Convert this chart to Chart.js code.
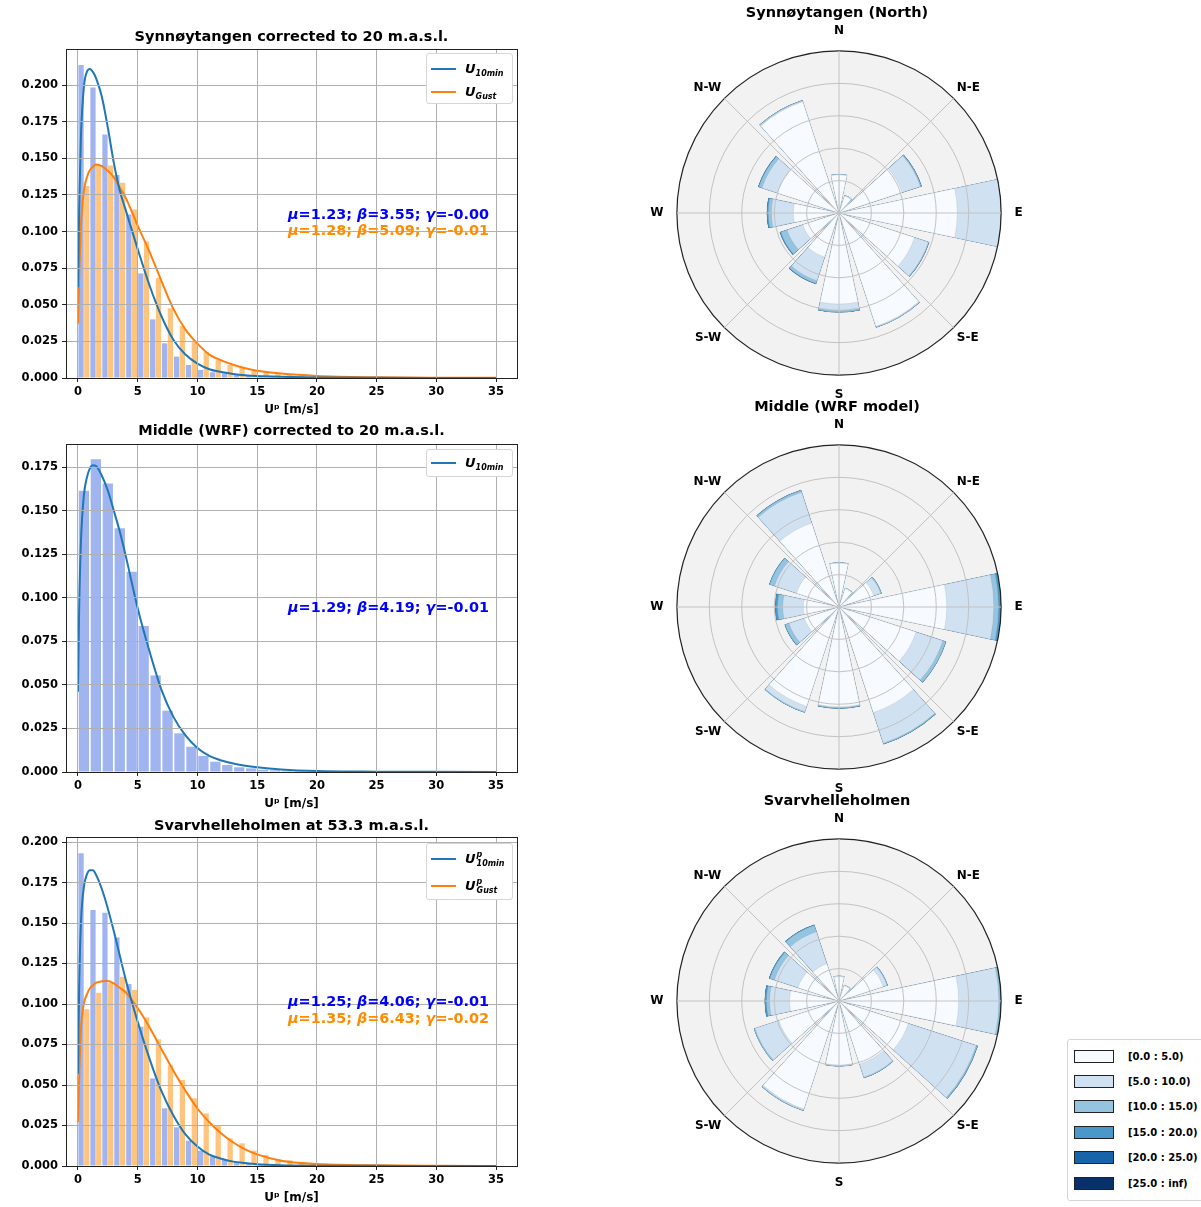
<!DOCTYPE html>
<html>
<head>
<meta charset="utf-8">
<title>Wind speed distributions and wind roses</title>
<script src="https://cdn.jsdelivr.net/npm/chart.js@4.4.1/dist/chart.umd.min.js"></script>
<style>
  html, body { margin: 0; padding: 0; background: #fff; }
  body { width: 1201px; height: 1207px; position: relative; overflow: hidden; font-family: "DejaVu Sans", sans-serif; }
  canvas { position: absolute; }
  .fit { position: absolute; left: 288px; font-weight: bold; font-size: 14.4px; line-height: 16px; white-space: nowrap; }
  .key { position: absolute; left: 426px; width: 85px; background: #fff; border: 1px solid #d6d6d6; border-radius: 3px; }
  .key .row { position: absolute; left: 0; height: 18px; display: flex; align-items: center; white-space: nowrap; }
  .key .ln { display: inline-block; width: 25px; height: 0; border-top: 2px solid; margin: 0 9px 0 4px; }
  .sym { font-style: italic; font-weight: bold; font-size: 13px; }
  .sym sub { font-size: 8px; vertical-align: -3px; }
  .ss { display: inline-flex; flex-direction: column; font-size: 8px; line-height: 9px; vertical-align: 6px; margin-left: 1px; }
  #binkey { position: absolute; left: 1067px; top: 1039px; width: 150px; height: 160px; background: #fff; border: 1px solid #d6d6d6; border-radius: 3px; }
  #binkey .row { position: absolute; left: 6px; height: 14px; display: flex; align-items: center; font-weight: bold; font-size: 10px; white-space: nowrap; }
  #binkey .sw { width: 38px; height: 11px; border: 1px solid #222; margin-right: 14px; }
</style>
</head>
<body>
<canvas id="h1" width="530" height="425" style="left:0;top:0"></canvas>
<canvas id="h2" width="530" height="424" style="left:0;top:395px"></canvas>
<canvas id="h3" width="530" height="423" style="left:0;top:790px"></canvas>
<canvas id="r1" width="378" height="402" style="left:648px;top:0"></canvas>
<canvas id="r2" width="378" height="402" style="left:648px;top:394px"></canvas>
<canvas id="r3" width="378" height="402" style="left:648px;top:788px"></canvas>

<div class="fit" style="top:206px;color:#0000ff"><i>μ</i>=1.23; <i>β</i>=3.55; <i>γ</i>=-0.00</div>
<div class="fit" style="top:222px;color:#ff8c00"><i>μ</i>=1.28; <i>β</i>=5.09; <i>γ</i>=-0.01</div>
<div class="fit" style="top:599px;color:#0000ff"><i>μ</i>=1.29; <i>β</i>=4.19; <i>γ</i>=-0.01</div>
<div class="fit" style="top:993px;color:#0000ff"><i>μ</i>=1.25; <i>β</i>=4.06; <i>γ</i>=-0.01</div>
<div class="fit" style="top:1010px;color:#ff8c00"><i>μ</i>=1.35; <i>β</i>=6.43; <i>γ</i>=-0.02</div>

<div class="key" style="top:53px;height:49px">
  <div class="row" style="top:6px"><span class="ln" style="border-color:#1f77b4"></span><span class="sym">U<sub>10min</sub></span></div>
  <div class="row" style="top:29px"><span class="ln" style="border-color:#ff7f0e"></span><span class="sym">U<sub>Gust</sub></span></div>
</div>
<div class="key" style="top:449px;height:26px">
  <div class="row" style="top:4px"><span class="ln" style="border-color:#1f77b4"></span><span class="sym">U<sub>10min</sub></span></div>
</div>
<div class="key" style="top:843px;height:55px">
  <div class="row" style="top:6px"><span class="ln" style="border-color:#1f77b4"></span><span class="sym">U<span class="ss"><span>p</span><span>10min</span></span></span></div>
  <div class="row" style="top:33px"><span class="ln" style="border-color:#ff7f0e"></span><span class="sym">U<span class="ss"><span>p</span><span>Gust</span></span></span></div>
</div>
<div id="binkey"></div>

<script>
// histogram bins are 1 m/s wide, starting at 0
const synnU10Hist = [0.2137, 0.1984, 0.1663, 0.1386, 0.1117, 0.0714, 0.0400, 0.0237, 0.0146, 0.0089, 0.0055, 0.0039, 0.0032, 0.0025, 0.0018, 0.0014, 0.0010, 0.0007, 0.0005, 0.0004, 0.0003, 0.0002, 0.0001, 0.0001, 0, 0, 0, 0, 0, 0];
const synnGustHist = [0.1311, 0.1454, 0.1450, 0.1333, 0.1151, 0.0931, 0.0683, 0.0476, 0.0355, 0.0248, 0.0180, 0.0127, 0.0089, 0.0070, 0.0048, 0.0045, 0.0032, 0.0020, 0.0015, 0.0011, 0.0008, 0.0006, 0.0004, 0.0003, 0.0002, 0.0002, 0.0001, 0.0001, 0, 0];
const midU10Hist = [0.1614, 0.1794, 0.1656, 0.1398, 0.1149, 0.0838, 0.0553, 0.0352, 0.0222, 0.0145, 0.0092, 0.0059, 0.0040, 0.0027, 0.0021, 0.0013, 0.0010, 0.0007, 0.0005, 0.0003, 0.0002, 0.0001, 0.0001, 0, 0, 0, 0, 0, 0, 0];
const svarU10Hist = [0.1930, 0.1580, 0.1564, 0.1410, 0.1123, 0.0860, 0.0541, 0.0356, 0.0239, 0.0156, 0.0095, 0.0060, 0.0037, 0.0023, 0.0016, 0.0010, 0.0007, 0.0005, 0.0003, 0.0002, 0.0001, 0.0001, 0, 0, 0, 0, 0, 0, 0, 0];
const svarGustHist = [0.0967, 0.1070, 0.1130, 0.1169, 0.1086, 0.0916, 0.0782, 0.0623, 0.0531, 0.0418, 0.0325, 0.0247, 0.0171, 0.0140, 0.0095, 0.0068, 0.0043, 0.0035, 0.0025, 0.0020, 0.0015, 0.0010, 0.0008, 0.0005, 0.0004, 0.0003, 0.0002, 0.0001, 0, 0];

// fitted curves at these wind speeds
const fitX = [0, 0.1, 0.25, 0.5, 0.75, 1, 1.25, 1.5, 2, 2.5, 3, 3.5, 4, 5, 6, 7, 8, 9, 10, 11, 12, 13, 14, 15, 17, 20, 25, 30, 35];
const synnU10Fit = [0.062, 0.115, 0.165, 0.199, 0.209, 0.211, 0.209, 0.205, 0.192, 0.171, 0.147, 0.128, 0.1146, 0.088, 0.063, 0.042, 0.026, 0.016, 0.0098, 0.006, 0.0041, 0.0027, 0.0018, 0.0013, 0.0008, 0.0004, 0.0001, 0.00005, 0];
const synnGustFit = [0.037, 0.068, 0.104, 0.128, 0.137, 0.142, 0.144, 0.1457, 0.1447, 0.1415, 0.137, 0.130, 0.123, 0.104, 0.086, 0.066, 0.047, 0.033, 0.0235, 0.016, 0.012, 0.009, 0.0066, 0.005, 0.003, 0.0014, 0.0005, 0.0002, 0.0001];
const midU10Fit = [0.046, 0.093, 0.132, 0.159, 0.169, 0.1742, 0.176, 0.1757, 0.170, 0.1615, 0.150, 0.138, 0.124, 0.094, 0.069, 0.047, 0.0315, 0.021, 0.0138, 0.0092, 0.0066, 0.0049, 0.0036, 0.0027, 0.0015, 0.0006, 0.0002, 0.0001, 0];
const svarU10Fit = [0.057, 0.110, 0.150, 0.1724, 0.180, 0.1825, 0.1825, 0.180, 0.171, 0.159, 0.145, 0.130, 0.115, 0.089, 0.066, 0.046, 0.031, 0.0195, 0.012, 0.007, 0.0045, 0.0027, 0.0018, 0.0011, 0.0005, 0.0002, 0.0001, 0, 0];
const svarGustFit = [0.027, 0.054, 0.084, 0.1004, 0.106, 0.1097, 0.1115, 0.113, 0.114, 0.1142, 0.1127, 0.110, 0.1072, 0.0975, 0.0855, 0.072, 0.0587, 0.0465, 0.0355, 0.027, 0.020, 0.0145, 0.0103, 0.0072, 0.0033, 0.0013, 0.0004, 0.0001, 0];

// wind roses: one row per sector (0, 30, ... 330 deg), one column per speed bin
const compass = ['N', 'N-E', 'E', 'S-E', 'S', 'S-W', 'W', 'N-W'];
const speedBins = ['[0.0 : 5.0)', '[5.0 : 10.0)', '[10.0 : 15.0)', '[15.0 : 20.0)', '[20.0 : 25.0)', '[25.0 : inf)'];
const binColors = ['#f7fbff', '#d0e1f2', '#94c4df', '#4a98c9', '#1764ab', '#08306b'];
const synnRose = [
  [2.35, 0.04, 0, 0, 0, 0],
  [1.10, 0.05, 0, 0, 0, 0],
  [4.09, 1.19, 0.06, 0.02, 0, 0],
  [7.30, 2.70, 0, 0, 0, 0],
  [4.90, 0.90, 0.04, 0.01, 0, 0],
  [7.35, 0.05, 0.03, 0, 0, 0],
  [5.62, 0.41, 0.08, 0.02, 0, 0],
  [2.86, 1.53, 0.18, 0.04, 0, 0],
  [2.35, 1.02, 0.41, 0.06, 0, 0],
  [2.82, 1.35, 0.20, 0.08, 0, 0],
  [4.00, 1.00, 0.20, 0.04, 0, 0],
  [7.22, 0.06, 0.04, 0, 0, 0]
];
const midRose = [
  [2.70, 0.04, 0, 0, 0, 0],
  [1.20, 0.03, 0, 0, 0, 0],
  [2.25, 0.45, 0.06, 0, 0, 0],
  [6.65, 2.90, 0.30, 0.15, 0, 0],
  [5.00, 1.74, 0.20, 0.01, 0, 0],
  [6.85, 1.98, 0.06, 0.01, 0, 0],
  [6.15, 0.05, 0.05, 0.01, 0, 0],
  [6.45, 0.35, 0.05, 0, 0, 0],
  [2.25, 1.00, 0.25, 0.02, 0, 0],
  [2.20, 1.27, 0.33, 0.14, 0, 0],
  [2.76, 1.43, 0.31, 0.02, 0, 0],
  [5.45, 2.00, 0.12, 0.02, 0, 0]
];
const svarRose = [
  [1.50, 0.05, 0, 0, 0, 0],
  [1.00, 0.04, 0, 0, 0, 0],
  [2.86, 0.25, 0.05, 0, 0, 0],
  [7.38, 2.48, 0.10, 0.04, 0, 0],
  [4.50, 4.40, 0.08, 0.02, 0, 0],
  [4.10, 0.85, 0.05, 0, 0, 0],
  [3.95, 0.06, 0.02, 0, 0, 0],
  [7.00, 0.08, 0.04, 0, 0, 0],
  [3.90, 1.55, 0.07, 0, 0, 0],
  [3.05, 1.23, 0.20, 0.10, 0, 0],
  [2.66, 1.53, 0.30, 0.05, 0, 0],
  [2.41, 2.09, 0.41, 0.04, 0, 0]
];

Chart.defaults.font.family = '"DejaVu Sans", sans-serif';
Chart.defaults.color = '#000';
Chart.defaults.animation = false;

const tickFont = { size: 11.5, weight: 'bold' };
const titleFont = { size: 14.5, weight: 'bold' };
const gridCol = '#b0b0b0';

function frameAxis(pos) {
  return {
    type: 'linear', position: pos, min: 0, max: 1,
    ticks: { display: false }, grid: { display: false, drawTicks: false },
    border: { display: true, color: '#222', width: 1, z: 2 },
    afterFit: s => { if (pos === 'top') s.height = 0; else s.width = 0; }
  };
}

function histChart(id, title, ymax, titlePad, bars, fits, catPct, barPct) {
  const datasets = [];
  bars.forEach(b => datasets.push({
    type: 'bar', label: b.label,
    data: b.values.map((v, i) => ({ x: i + 0.5, y: v })),
    backgroundColor: b.color, borderWidth: 0,
    categoryPercentage: catPct, barPercentage: barPct, order: 1
  }));
  fits.forEach(f => datasets.push({
    type: 'line', label: f.label,
    data: fitX.map((x, i) => ({ x: x, y: f.values[i] })),
    borderColor: f.color, borderWidth: 2, pointRadius: 0,
    cubicInterpolationMode: 'monotone', fill: false, order: 0
  }));

  return new Chart(document.getElementById(id), {
    type: 'bar',
    data: { datasets: datasets },
    options: {
      responsive: false,
      layout: { padding: { left: 0, right: 13, top: 0, bottom: 0 } },
      plugins: {
        legend: { display: false },
        tooltip: { enabled: false },
        title: { display: true, text: title, font: titleFont, color: '#000', fullSize: false, padding: titlePad }
      },
      scales: {
        x: {
          type: 'linear', min: -1, max: 36.75, offset: false,
          ticks: { stepSize: 5, includeBounds: false, font: tickFont, color: '#000', padding: 3, maxRotation: 0, autoSkip: false },
          grid: { color: gridCol, lineWidth: 1, z: 1, offset: false, tickLength: 4, tickColor: '#222' },
          border: { color: '#222', width: 1, z: 2 },
          title: { display: true, text: 'Uᵖ [m/s]', font: { size: 12, weight: 'bold' }, color: '#000', padding: { top: 0, bottom: 7.8 } },
          afterFit: s => { s.height = 47; }
        },
        y: {
          min: 0, max: ymax,
          ticks: { stepSize: 0.025, includeBounds: false, font: tickFont, color: '#000', padding: 4, callback: v => v.toFixed(3) },
          grid: { color: gridCol, lineWidth: 1, z: 1, tickLength: 4, tickColor: '#222' },
          border: { color: '#222', width: 1, z: 2 },
          afterFit: s => { s.width = 66; }
        },
        xTop: frameAxis('top'),
        yRight: frameAxis('right')
      }
    }
  });
}

histChart('h1', 'Synnøytangen corrected to 20 m.a.s.l.', 0.2246, { top: 28.3, bottom: 3.3 },
  [{ label: 'U10min', values: synnU10Hist, color: 'rgba(65,105,225,0.5)' },
   { label: 'UGust', values: synnGustHist, color: 'rgba(255,140,0,0.5)' }],
  [{ label: 'U10min fit', values: synnU10Fit, color: '#1f77b4' },
   { label: 'UGust fit', values: synnGustFit, color: '#ff7f0e' }],
  0.96, 0.92);

histChart('h2', 'Middle (WRF) corrected to 20 m.a.s.l.', 0.1882, { top: 27.3, bottom: 4.3 },
  [{ label: 'U10min', values: midU10Hist, color: 'rgba(65,105,225,0.5)' }],
  [{ label: 'U10min fit', values: midU10Fit, color: '#1f77b4' }],
  0.86, 1.0);

histChart('h3', 'Svarvhelleholmen at 53.3 m.a.s.l.', 0.2031, { top: 27.3, bottom: 2.3 },
  [{ label: 'U10min', values: svarU10Hist, color: 'rgba(65,105,225,0.5)' },
   { label: 'UGust', values: svarGustHist, color: 'rgba(255,140,0,0.5)' }],
  [{ label: 'U10min fit', values: svarU10Fit, color: '#1f77b4' },
   { label: 'UGust fit', values: svarGustFit, color: '#ff7f0e' }],
  0.96, 0.92);

// --- wind roses ---
// each sector is 24 deg wide with a 6 deg gap; the N sector is split in two halves
const sliceAngles = [12];
for (let d = 1; d < 12; d++) sliceAngles.push(6, 24);
sliceAngles.push(6, 12);

function roseValues(rose, bin) {
  const cum = rose.map(row => row.slice(0, bin + 1).reduce((a, b) => a + b, 0));
  const out = [cum[0]];
  for (let d = 1; d < 12; d++) out.push(0, cum[d]);
  out.push(0, cum[0]);
  return out;
}
function sectorOf(i) { return i === 24 ? 0 : (i % 2 ? -1 : i / 2); }

const roseDisc = {
  id: 'roseDisc',
  beforeDatasetsDraw(chart) {
    const r = chart.scales.r, ctx = chart.ctx;
    ctx.save();
    ctx.beginPath();
    ctx.arc(r.xCenter, r.yCenter, r.drawingArea, 0, Math.PI * 2);
    ctx.fillStyle = '#f2f2f2';
    ctx.fill();
    ctx.restore();
  }
};

const labelPads = [12.5, 4.5, 13.5, 4.5, 12.5, 4.5, 13.5, 4.5];

function roseChart(id, title, rose) {
  const datasets = speedBins.map((label, b) => ({
    label: label,
    data: roseValues(rose, b),
    backgroundColor: binColors[b],
    borderColor: 'rgba(110,110,110,0.28)',
    borderWidth: ctx => {
      const d = sectorOf(ctx.dataIndex);
      return d >= 0 && rose[d][b] > 0 ? 0.5 : 0;
    },
    angle: ctx => sliceAngles[ctx.dataIndex]
  }));
  return new Chart(document.getElementById(id), {
    type: 'polarArea',
    data: { labels: compass, datasets: datasets },
    options: {
      responsive: false,
      layout: { padding: 0 },
      plugins: {
        legend: { display: false },
        tooltip: { enabled: false },
        title: { display: true, text: title, font: titleFont, color: '#000', padding: { top: 4.3, bottom: 2.3 } }
      },
      scales: {
        r: {
          min: 0, max: 10, startAngle: 0,
          ticks: { display: false, stepSize: 2 },
          grid: {
            circular: true, z: 1,
            color: c => c.tick && c.tick.value === 10 ? '#222' : '#c2c2c2',
            lineWidth: c => c.tick && c.tick.value === 10 ? 1.2 : 1
          },
          angleLines: { display: true, color: '#c2c2c2', lineWidth: 1 },
          pointLabels: { display: true, font: { size: 12, weight: 'bold' }, color: '#000', padding: c => labelPads[c.index] }
        }
      }
    },
    plugins: [roseDisc]
  });
}

roseChart('r1', 'Synnøytangen (North)', synnRose);
roseChart('r2', 'Middle (WRF model)', midRose);
roseChart('r3', 'Svarvhelleholmen', svarRose);

// legend for the speed bins
const binKey = document.getElementById('binkey');
speedBins.forEach((label, i) => {
  const row = document.createElement('div');
  row.className = 'row';
  row.style.top = (9 + i * 25.4) + 'px';
  row.innerHTML = '<span class="sw" style="background:' + binColors[i] + '"></span><span>' + label + '</span>';
  binKey.appendChild(row);
});
</script>
</body>
</html>
